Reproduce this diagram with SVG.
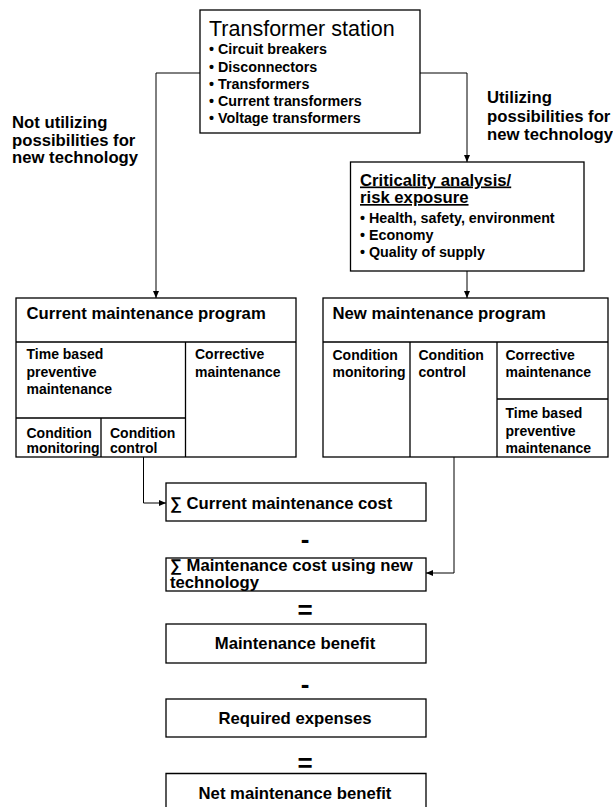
<svg xmlns="http://www.w3.org/2000/svg" width="613" height="807" viewBox="0 0 613 807">
<style>
.box{fill:#fff;stroke:#000;stroke-width:1.3}
.div{fill:none;stroke:#000;stroke-width:1.3}
.ln{fill:none;stroke:#000;stroke-width:1;marker-end:url(#arr)}
text{font-family:"Liberation Sans",Arial,sans-serif;fill:#000}
.b{font-weight:bold}
.h{font-size:16.7px;font-weight:bold}
.s{font-size:14.3px;font-weight:bold}
.m{font-size:14px;font-weight:bold}
.c{text-anchor:middle}
.op{font-size:26px;font-weight:bold;text-anchor:middle}
</style>
<defs>
<marker id="arr" markerWidth="7" markerHeight="6" refX="7" refY="3" orient="auto" markerUnits="userSpaceOnUse"><path d="M0,0 L7,3 L0,6 z" fill="#000"/></marker>
</defs>
<g id="connectors">
<path class="ln" d="M200,73 H156 V298"/>
<path class="ln" d="M420,73 H467 V162"/>
<path class="ln" d="M467,271 V298"/>
<path class="ln" d="M143.5,457 V503 H166"/>
<path class="ln" d="M454,457 V573 H426"/>
</g>
<g id="transformer-station">
<rect class="box" x="200" y="10" width="220" height="123"/>
<text x="209" y="36" font-size="21.5">Transformer station</text>
<text class="s" x="209" y="54.3">• Circuit breakers</text>
<text class="s" x="209" y="71.5">• Disconnectors</text>
<text class="s" x="209" y="88.8">• Transformers</text>
<text class="s" x="209" y="106">• Current transformers</text>
<text class="s" x="209" y="123">• Voltage transformers</text>
</g>
<g id="label-not-utilizing">
<text class="h" x="12" y="128.3">Not utilizing</text>
<text class="h" x="12" y="145.8">possibilities for</text>
<text class="h" x="12" y="163.3">new technology</text>
</g>
<g id="label-utilizing">
<text class="h" x="487" y="102.7">Utilizing</text>
<text class="h" x="487" y="121.5">possibilities for</text>
<text class="h" x="487" y="140.3">new technology</text>
</g>
<g id="criticality">
<rect class="box" x="350.5" y="162" width="233.5" height="109"/>
<text class="h" x="360" y="185.5" text-decoration="underline">Criticality analysis/</text>
<text class="h" x="360" y="203" text-decoration="underline">risk exposure</text>
<text class="s" x="360" y="222.5">•  Health, safety, environment</text>
<text class="s" x="360" y="240">• Economy</text>
<text class="s" x="360" y="257.3">• Quality of supply</text>
</g>
<g id="current-program">
<rect class="box" x="16" y="298" width="280" height="159"/>
<path class="div" d="M16,342 H296 M185.5,342 V457 M16,418 H185.5 M101,418 V457"/>
<text class="h" x="26.5" y="319.3">Current maintenance program</text>
<text class="m" x="26.5" y="359.3">Time based</text>
<text class="m" x="26.5" y="377">preventive</text>
<text class="m" x="26.5" y="394.3">maintenance</text>
<text class="m" x="195" y="359.3">Corrective</text>
<text class="m" x="195" y="377">maintenance</text>
<text class="m" x="26.5" y="437.5">Condition</text>
<text class="m" x="26.5" y="453">monitoring</text>
<text class="m" x="110" y="437.5">Condition</text>
<text class="m" x="110" y="453">control</text>
</g>
<g id="new-program">
<rect class="box" x="323" y="298" width="285" height="159"/>
<path class="div" d="M323,342 H608 M410,342 V457 M497,342 V457 M497,399 H608"/>
<text class="h" x="332.5" y="319.3">New maintenance program</text>
<text class="m" x="332.5" y="359.5">Condition</text>
<text class="m" x="332.5" y="377">monitoring</text>
<text class="m" x="418.5" y="359.5">Condition</text>
<text class="m" x="418.5" y="377">control</text>
<text class="m" x="505.5" y="359.5">Corrective</text>
<text class="m" x="505.5" y="377">maintenance</text>
<text class="m" x="505.5" y="418.3">Time based</text>
<text class="m" x="505.5" y="435.7">preventive</text>
<text class="m" x="505.5" y="453">maintenance</text>
</g>
<g id="current-cost">
<rect class="box" x="166" y="483" width="260" height="38"/>
<text class="h" x="170" y="508.5">∑ Current maintenance cost</text>
</g>
<text class="op" x="305" y="548">-</text>
<g id="new-tech-cost">
<rect class="box" x="166" y="558" width="260" height="33"/>
<text class="h" x="170" y="571">∑ Maintenance cost using new</text>
<text class="h" x="170" y="588">technology</text>
</g>
<text class="op" x="305" y="619">=</text>
<g id="maintenance-benefit">
<rect class="box" x="166" y="624" width="260" height="39"/>
<text class="h c" x="295" y="649">Maintenance benefit</text>
</g>
<text class="op" x="305" y="693">-</text>
<g id="required-expenses">
<rect class="box" x="166" y="699" width="260" height="38"/>
<text class="h c" x="295" y="723.5">Required expenses</text>
</g>
<text class="op" x="305" y="771.5">=</text>
<g id="net-benefit">
<path class="box" d="M166,807 V773.5 H426 V807"/>
<text class="h c" x="295" y="798.5">Net maintenance benefit</text>
</g>
</svg>
